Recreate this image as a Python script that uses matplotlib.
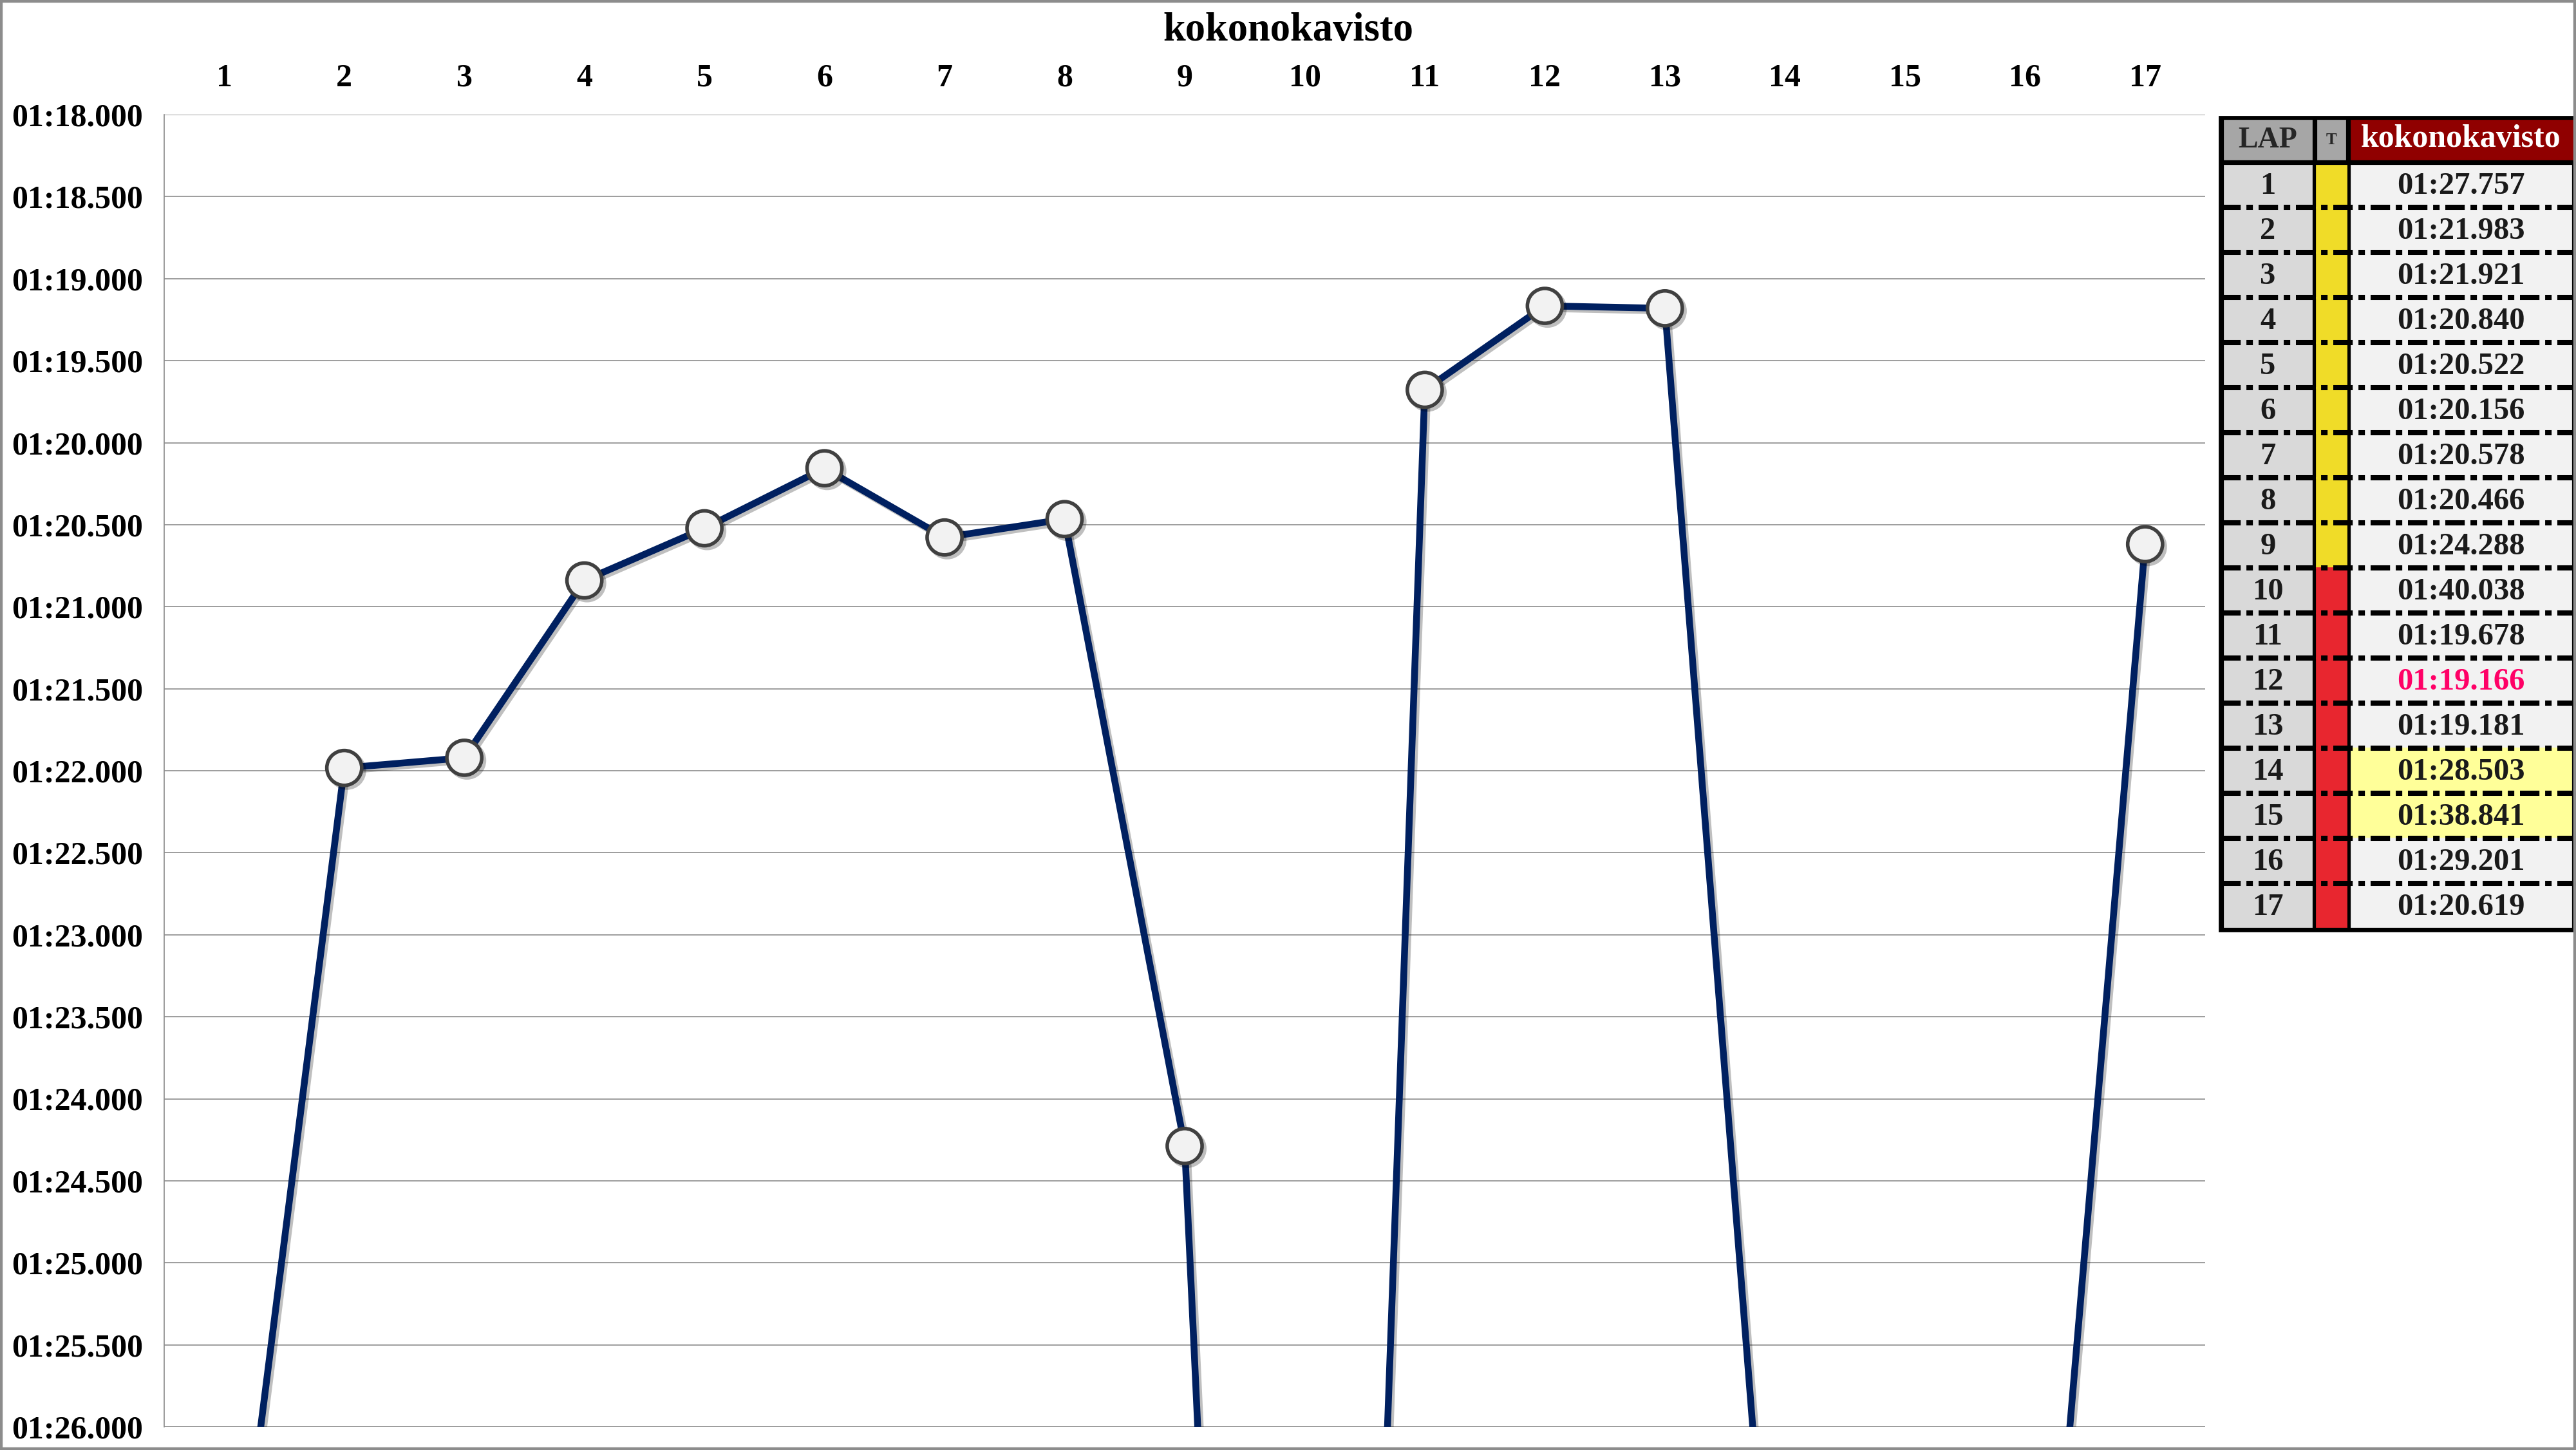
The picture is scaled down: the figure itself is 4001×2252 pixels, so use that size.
import matplotlib
matplotlib.use("Agg")
import matplotlib.pyplot as plt
import matplotlib.patheffects as pe
from matplotlib.patches import Rectangle
from matplotlib.ticker import FuncFormatter, FixedLocator

plt.rcParams['font.family'] = ['Liberation Serif', 'DejaVu Serif']
plt.rcParams['font.weight'] = 'bold'

driver = "kokonokavisto"
laps = list(range(1, 18))
lap_times = ["01:27.757", "01:21.983", "01:21.921", "01:20.840", "01:20.522",
             "01:20.156", "01:20.578", "01:20.466", "01:24.288", "01:40.038",
             "01:19.678", "01:19.166", "01:19.181", "01:28.503", "01:38.841",
             "01:29.201", "01:20.619"]
tyre = ["Y"] * 9 + ["R"] * 8
pit_laps = [14, 15]
best_lap = 12

y_min, y_max, y_step = 78.0, 86.0, 0.5

tyre_colors = {"Y": "#F0DC28", "R": "#E8262F"}


def to_seconds(s):
    m, rest = s.split(":")
    return int(m) * 60 + float(rest)


def fmt_time(v, pos=None):
    m = int(v // 60)
    s = v - m * 60
    return f"{m:02d}:{s:06.3f}"


secs = [to_seconds(t) for t in lap_times]

W, H = 4001, 2252
DPI = 200
fig = plt.figure(figsize=(W / DPI, H / DPI), dpi=DPI)

# main chart
ax = fig.add_axes([255 / W, 1 - 2216 / H, (3425 - 255) / W, (2216 - 178) / H])
ax.plot(laps, secs, color="#002060", lw=3.8, marker="o", ms=19.5,
        mfc="#F2F2F2", mec="#404040", mew=2.0, zorder=3,
        path_effects=[pe.SimpleLineShadow(offset=(1.5, -1.5), alpha=0.25),
                      pe.Normal()])
ax.set_xlim(0.5, 17.5)
ax.set_ylim(y_max, y_min)
yt = [y_min + i * y_step for i in range(int((y_max - y_min) / y_step) + 1)]
ax.yaxis.set_major_locator(FixedLocator(yt))
ax.yaxis.set_major_formatter(FuncFormatter(fmt_time))
ax.set_xticks(laps)
ax.xaxis.tick_top()
ax.tick_params(axis="both", length=0, labelsize=18)
ax.tick_params(axis="x", pad=12)
ax.tick_params(axis="y", pad=12)
ax.grid(axis="y", color="#8C8C8C", lw=0.6)
for side in ["top", "right", "bottom"]:
    ax.spines[side].set_visible(False)
ax.spines["left"].set_color("#8C8C8C")
ax.spines["left"].set_linewidth(0.6)

fig.text(0.5, 1 - 48 / H, driver, ha="center", va="center", fontsize=22.5,
         fontweight="bold")

# lap table, drawn in pixel coordinates
tax = fig.add_axes([0, 0, 1, 1])
tax.set_xlim(0, W)
tax.set_ylim(H, 0)
tax.axis("off")
tax.patch.set_alpha(0)

x_lap = (3455, 3590)
x_t = (3598, 3644)
x_name = (3652, 3993)
row_top, row_h = 252, 70

tax.add_patch(Rectangle((3447, 181), 3999 - 3447, 1446 - 181, color="black"))
tax.add_patch(Rectangle((x_lap[0], 187), x_lap[1] - x_lap[0], 60, color="#A6A6A6"))
tax.add_patch(Rectangle((3600, 187), 42, 60, color="#A6A6A6"))
tax.add_patch(Rectangle((x_name[0], 187), 3998 - x_name[0], 60, color="#900000"))
tax.text(sum(x_lap) / 2, 218, "LAP", ha="center", va="center", fontsize=16.5,
         color="#262626")
tax.text(3621, 218, "T", ha="center", va="center", fontsize=9, color="#262626")
tax.text(sum(x_name) / 2, 216, driver, ha="center", va="center", fontsize=18,
         color="white")

for i, lap in enumerate(laps):
    y0 = row_top + i * row_h
    y1 = y0 + row_h
    top = max(y0, 257)
    bot = min(y1, 1439)
    name_col = "#FFFF99" if lap in pit_laps else "#F2F2F2"
    tax.add_patch(Rectangle((x_lap[0], top), x_lap[1] - x_lap[0], bot - top,
                            color="#D9D9D9"))
    tax.add_patch(Rectangle((x_t[0], top), x_t[1] - x_t[0], bot - top,
                            color=tyre_colors[tyre[i]]))
    tax.add_patch(Rectangle((x_name[0], top), x_name[1] - x_name[0], bot - top,
                            color=name_col))
    yc = y0 + row_h / 2 + 2
    tax.text(sum(x_lap) / 2, yc, str(lap), ha="center", va="center",
             fontsize=17.5, color="#1a1a1a")
    tcol = "#FF0066" if lap == best_lap else "#1a1a1a"
    tax.text(sum(x_name) / 2, yc, lap_times[i], ha="center", va="center",
             fontsize=17.5, color=tcol)
    if i > 0:
        tax.plot([3450, 3996], [y0, y0], color="black", lw=2.9,
                 dashes=(3.75, 1.1, 1.25, 1.1), solid_capstyle="butt",
                 dash_capstyle="butt")

# figure border
fig.patches.append(Rectangle((0.0005, 0.001), 0.999, 0.998, transform=fig.transFigure,
                             fill=False, edgecolor="#8C8C8C", lw=1.6))

fig.savefig("out.png", dpi=DPI, facecolor="white")
